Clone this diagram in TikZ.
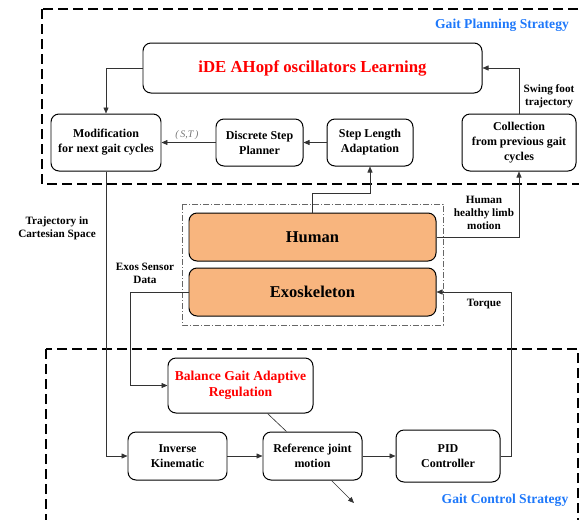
\documentclass[tikz,border=0pt]{standalone}
\usepackage{fontspec}
\setmainfont{Liberation Serif}
\usetikzlibrary{arrows.meta,calc}

\definecolor{humanfill}{RGB}{248,181,126}
\definecolor{stratblue}{RGB}{30,120,250}

\tikzset{
  block/.style={draw, line width=0.35mm, rounded corners=8pt, align=center,
    font=\fontsize{12}{15}\selectfont\bfseries, inner sep=2pt},
  body/.style={block, fill=humanfill, minimum width=247pt, minimum height=48pt,
    font=\fontsize{16.5}{20}\selectfont\bfseries},
  conn/.style={draw=black!80, line width=0.22mm, -{Triangle[length=6pt,width=5pt]}},
  link/.style={draw=black!80, line width=0.22mm},
  lbl/.style={font=\fontsize{11.2}{13}\selectfont\bfseries, align=center},
  strategy/.style={font=\fontsize{13.6}{15}\selectfont\bfseries, text=stratblue},
  region/.style={line width=0.4mm, dash pattern=on 10pt off 5pt},
}

\begin{document}
\begin{tikzpicture}[x=1pt,y=-1pt]
	\useasboundingbox (0,0) rectangle (579,520);
	\clip (0,0) rectangle (579,520);
	
	% strategy regions
	\draw[region] (42,9) rectangle (600,184);
	\draw[region] (46,349) rectangle (578,540);
	\draw[draw=black!60, line width=0.2mm, dash pattern=on 6pt off 2pt on 1pt off 2pt] (182,204) rectangle (443,325);
	
	\node[strategy] (planstrat) at (502,25) {Gait Planning Strategy};
	\node[strategy] (ctrlstrat) at (505,500) {Gait Control Strategy};
	
	% planning blocks
	\node[block, minimum width=339pt, minimum height=50pt, text=red,
	      font=\fontsize{16.8}{20}\selectfont\bfseries] (learn) at (312.5,68) {iDE AHopf oscillators Learning};
	\node[block, minimum width=110pt, minimum height=57pt] (modif) at (106,142.5) {Modification\\for next gait cycles};
	\node[block, minimum width=87pt, minimum height=47pt] (discrete) at (259.5,142.5) {Discrete Step\\Planner};
	\node[block, minimum width=86pt, minimum height=47pt] (steplen) at (370,142.5) {Step Length\\Adaptation};
	\node[block, minimum width=114pt, minimum height=57pt] (collect) at (519,142.5) {Collection\\from previous gait\\cycles};
	
	% human and exoskeleton
	\node[body] (human) at (312.5,237) {Human};
	\node[body] (exo) at (312.5,292) {Exoskeleton};
	
	% control blocks
	\node[block, minimum width=145pt, minimum height=55pt, text=red,
	      font=\fontsize{13.6}{16}\selectfont\bfseries] (balance) at (240.5,385.5) {Balance Gait Adaptive\\Regulation};
	\node[block, minimum width=99pt, minimum height=48pt] (invkin) at (177.5,456) {Inverse\\Kinematic};
	\node[block, minimum width=99pt, minimum height=48pt] (refjoint) at (312.5,456) {Reference joint\\motion};
	\node[block, minimum width=104pt, minimum height=52pt] (pid) at (448,456) {PID\\Controller};
	
	% labels
	\node[font=\fontsize{10}{12}\selectfont\itshape, text=black!55] (stlbl) at (187,135) {(\,S,T\,)};
	\node[lbl] (swinglbl) at (549,96.5) {Swing foot\\trajectory};
	\node[lbl] (limblbl) at (484,213) {Human\\healthy limb\\motion};
	\node[lbl] (cartlbl) at (57,228.5) {Trajectory in\\Cartesian Space};
	\node[lbl] (sensorlbl) at (145,273) {Exos Sensor\\Data};
	\node[lbl] (torquelbl) at (484,304) {Torque};
	
	% connectors
	\draw[conn] (learn.west) -| (modif.north);
	\draw[conn] (collect.north) |- (learn.east);
	\draw[conn] (steplen.west) -- (discrete.east);
	\draw[conn] (discrete.west) -- (modif.east);
	\draw[conn] (human.north) -- ++(0,-19) -| (steplen.south);
	\draw[conn] (human.east) -| (collect.south);
	\draw[conn] (exo.west) -- ++(-58,0) |- (balance.west);
	\draw[conn] (modif.south) |- (invkin.west);
	\draw[conn] (invkin.east) -- (refjoint.west);
	\draw[conn] (refjoint.east) -- (pid.west);
	\draw[conn] (pid.east) -- ++(11,0) |- (exo.east);
	\draw[link] ($(balance.south)+(27,0)$) -- ($(refjoint.north)+(-26,0)$);
	\coordinate (refout) at (354,503);
	\draw[conn] ($(refjoint.south)+(19,0)$) -- (refout);
	
\end{tikzpicture}
\end{document}
